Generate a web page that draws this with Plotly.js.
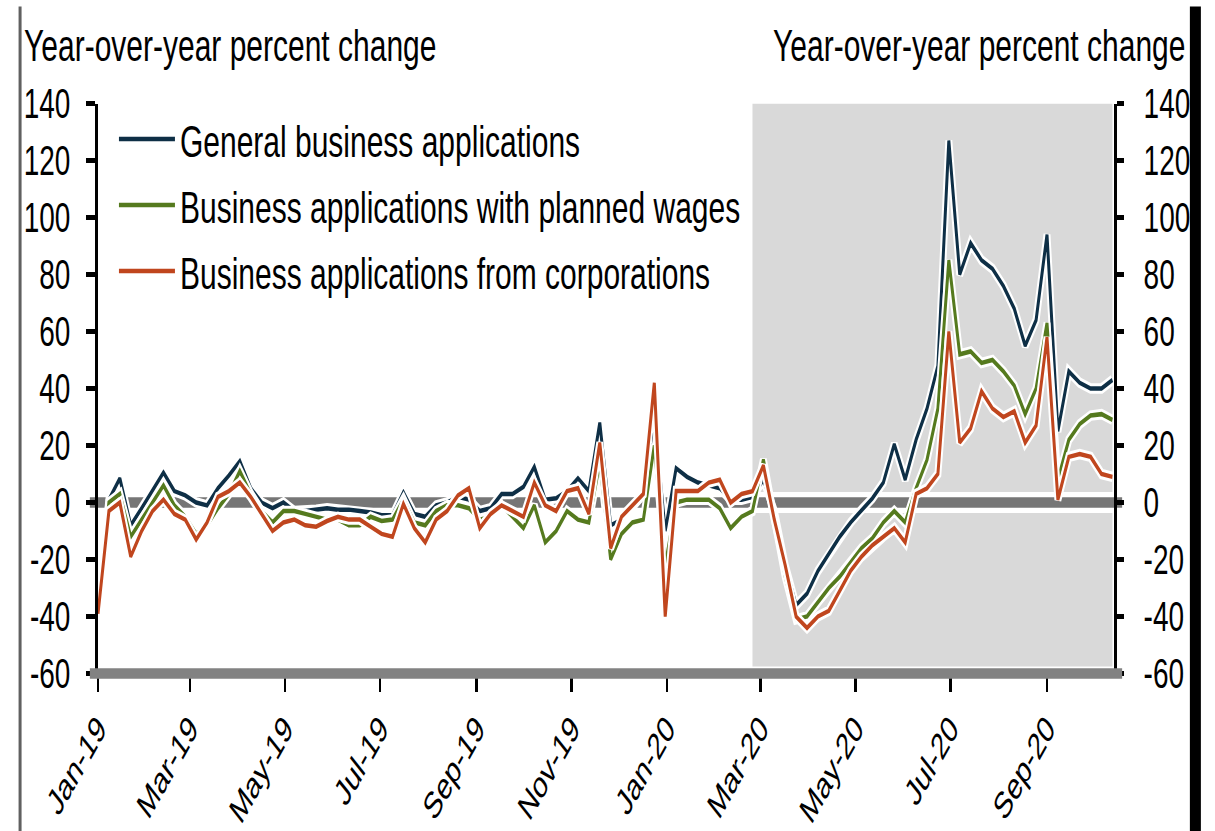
<!DOCTYPE html>
<html><head><meta charset="utf-8">
<script src="https://cdn.plot.ly/plotly-3.0.1.min.js"></script>
<style>
html,body{margin:0;padding:0;background:#fff;overflow:hidden;}
#wrap{width:1215px;height:831px;overflow:hidden;position:relative;background:#fff;}
#chart{width:1215px;height:554px;transform:scaleY(1.5);transform-origin:0 0;}
</style></head><body><div id="wrap"><div id="chart"></div></div>
<script>
const weeks = ['2019-01-01','2019-01-08','2019-01-15','2019-01-22','2019-01-29','2019-02-05','2019-02-12','2019-02-19','2019-02-26','2019-03-05','2019-03-12','2019-03-19','2019-03-26','2019-04-02','2019-04-09','2019-04-16','2019-04-23','2019-04-30','2019-05-07','2019-05-14','2019-05-21','2019-05-28','2019-06-04','2019-06-11','2019-06-18','2019-06-25','2019-07-02','2019-07-09','2019-07-16','2019-07-23','2019-07-30','2019-08-06','2019-08-13','2019-08-20','2019-08-27','2019-09-03','2019-09-10','2019-09-17','2019-09-24','2019-10-01','2019-10-08','2019-10-15','2019-10-22','2019-10-29','2019-11-05','2019-11-12','2019-11-19','2019-11-26','2019-12-03','2019-12-10','2019-12-17','2019-12-24','2019-12-31','2020-01-07','2020-01-14','2020-01-21','2020-01-28','2020-02-04','2020-02-11','2020-02-18','2020-02-25','2020-03-03','2020-03-10','2020-03-17','2020-03-24','2020-03-31','2020-04-07','2020-04-14','2020-04-21','2020-04-28','2020-05-05','2020-05-12','2020-05-19','2020-05-26','2020-06-02','2020-06-09','2020-06-16','2020-06-23','2020-06-30','2020-07-07','2020-07-14','2020-07-21','2020-07-28','2020-08-04','2020-08-11','2020-08-18','2020-08-25','2020-09-01','2020-09-08','2020-09-15','2020-09-22','2020-09-29','2020-10-06','2020-10-13'];

const generalApps = [-37, 1, 8.5, -8, -2, 4.5, 10.5, 4, 2.5, 0,
 -1, 5, 9.5, 14.5, 5, 0, -2, 0, -3, -3,
 -2.5, -2, -2.5, -2.5, -3, -3.5, -4.5, -4.5, 3.5, -4,
 -5, -1, 0, 2, 1, -3, -2, 3, 3, 5.5,
 12.5, 1, 1.5, 4, 8.5, 4, 28, -8, -6, -1,
 3, 30, -10, 12, 9, 7, 6, 5, 1, 1,
 2, 8, -3, -22, -36, -32, -24, -18, -12, -7,
 -2.5, 1.5, 7, 20.5, 8, 22, 33, 48, 127, 80,
 91, 85, 82, 76, 68, 55, 64, 94, 25, 46,
 42, 40, 40, 43];

const plannedWages = [-36, 0, 3, -12, -6, 0, 6, -1, -5, -11,
 -8, -2, 3, 11, 3, -3, -7, -3, -3, -4,
 -5, -6, -6, -8, -8, -5, -6.5, -6, 1, -7,
 -8, -3, -1, -1, -2, -6, -5, -1, -5, -9,
 -1, -14, -10, -3, -6, -7, 14, -20, -11, -7,
 -6, 20, -22, 0, 1, 1, 1, -2, -9, -5,
 -3, 15, -4, -26, -41, -40, -35, -30, -26, -21,
 -16, -12.5, -7, -3, -7, 5, 15, 33, 85, 52,
 53, 49, 50, 46, 41, 31, 40, 63, 8, 22,
 27.5, 30.5, 31, 29];

const corporations = [-39, -3, 0, -19, -10, -3, 1, -4, -6, -13,
 -7, 2, 4, 7, 2, -4, -10, -7, -6, -8,
 -8.5, -6.5, -5, -6, -6, -8.5, -11, -12, -0.5, -9,
 -14, -6, -3, 2.5, 5, -9, -4, -1, -3, -5,
 7, -1, -3, 4, 5, -4, 21, -16, -5, -1,
 3, 42, -40, 4, 4, 4, 7, 8, 0, 3,
 4, 13, -6, -22, -40, -44, -40, -38, -31, -24,
 -19, -15, -12, -9, -14, 3, 5, 10, 60, 21,
 26, 39, 33, 30, 32, 21, 27, 58, 1, 16,
 17, 16, 10, 9];

const seriesNames = ['General business applications','Business applications with planned wages','Business applications from corporations'];
const xTickVals = ['2019-01-01','2019-03-01','2019-05-01','2019-07-01','2019-09-01','2019-11-01','2020-01-01','2020-03-01','2020-05-01','2020-07-01','2020-09-01'];
const xTickText = ['Jan-19','Mar-19','May-19','Jul-19','Sep-19','Nov-19','Jan-20','Mar-20','May-20','Jul-20','Sep-20'];
const yTickVals = [-60,-40,-20,0,20,40,60,80,100,120,140];
const yTickText = ['-60','-40','-20','0','20','40','60','80','100','120','140'];
const axisTitle = 'Year-over-year percent change';
const shadeStart = '2020-02-25';
const shadeEnd = '2020-10-13';
const axisStart = '2019-01-01';
const axisEnd = '2020-10-14';

const colors = ['#0e2f46','#557a1e','#c0461e'];
const series = [generalApps, plannedWages, corporations];
const traces = [];
series.forEach(function(ys, k){
  traces.push({x:weeks, y:ys, type:'scatter', mode:'lines', line:{color:'#ffffff', width:7}, showlegend:false, hoverinfo:'skip'});
  traces.push({x:weeks, y:ys, type:'scatter', mode:'lines', name:seriesNames[k], legendgroup:'g'+k, line:{color:colors[k], width:3}});
});
traces.push({x:[weeks[0]], y:[generalApps[0]], yaxis:'y2', type:'scatter', mode:'markers', marker:{opacity:0}, showlegend:false, hoverinfo:'skip'});

const FONT = '"Liberation Sans", Arial, sans-serif';
const yCommon = {range:[-60,140], tickmode:'array', tickvals:yTickVals, ticktext:yTickText, ticks:'outside', tickwidth:3, tickcolor:'#000', showline:true, linecolor:'#000', linewidth:3, showgrid:false, zeroline:false, tickfont:{family:FONT, size:28, color:'#000'}, fixedrange:true};

const layout = {
  width:1215, height:554,
  margin:{l:98, r:101, t:69, b:105, pad:0},
  paper_bgcolor:'#ffffff', plot_bgcolor:'rgba(0,0,0,0)',
  font:{family:FONT, size:28, color:'#000'},
  showlegend:true,
  legend:{x:0.0157, y:1.006, xanchor:'left', yanchor:'top', font:{family:FONT, size:30, color:'#000'}, bgcolor:'rgba(0,0,0,0)', itemwidth:56, tracegroupgap:2, traceorder:'grouped'},
  xaxis:{type:'date', range:[axisStart, axisEnd], tickmode:'array', tickvals:xTickVals, ticktext:xTickText, tickangle:-50, ticks:'outside', ticklen:11, tickwidth:2.5, tickcolor:'#000', showline:false, showgrid:false, zeroline:false, tickfont:{family:FONT, size:25, color:'#000'}, fixedrange:true},
  yaxis:Object.assign({}, yCommon, {ticklen:9, ticklabelstandoff:10}),
  yaxis2:Object.assign({}, yCommon, {overlaying:'y', side:'right', ticklen:7, ticklabelstandoff:14}),
  shapes:[
    {type:'rect', xref:'x', yref:'y', x0:shadeStart, x1:shadeEnd, y0:-57.5, y1:140, fillcolor:'#d9d9d9', line:{width:0}, layer:'below'},
    {type:'line', xref:'paper', yref:'y', x0:-0.008, x1:1.008, y0:0, y1:0, line:{color:'#767676', width:7}, layer:'below'},
    {type:'line', xref:'x', yref:'y', x0:axisStart, x1:axisEnd, y0:0, y1:0, line:{color:'#ffffff', width:14}, layer:'below'},
    {type:'line', xref:'x', yref:'y', x0:axisStart, x1:axisEnd, y0:0, y1:0, line:{color:'#767676', width:7}, layer:'below'},
    {type:'line', xref:'paper', yref:'paper', x0:-0.008, x1:1.008, y0:0, y1:0, line:{color:'#828282', width:7}, layer:'above'},
    {type:'line', xref:'paper', yref:'paper', x0:-0.0767, x1:-0.0767, y0:1.17, y1:-0.3, line:{color:'#606060', width:3}, layer:'above'},
    {type:'line', xref:'paper', yref:'paper', x0:1.0801, x1:1.0801, y0:1.17, y1:-0.3, line:{color:'#000000', width:11}, layer:'above'}
  ],
  annotations:[
    {xref:'paper', yref:'paper', x:-0.0747, y:1.1, xanchor:'left', yanchor:'middle', text:axisTitle, showarrow:false, font:{family:FONT, size:30, color:'#000'}},
    {xref:'paper', yref:'paper', x:0.6627, y:1.1, xanchor:'left', yanchor:'middle', text:axisTitle, showarrow:false, font:{family:FONT, size:30, color:'#000'}}
  ]
};

Plotly.newPlot('chart', traces, layout, {displayModeBar:false, staticPlot:true, responsive:false});
</script></body></html>
